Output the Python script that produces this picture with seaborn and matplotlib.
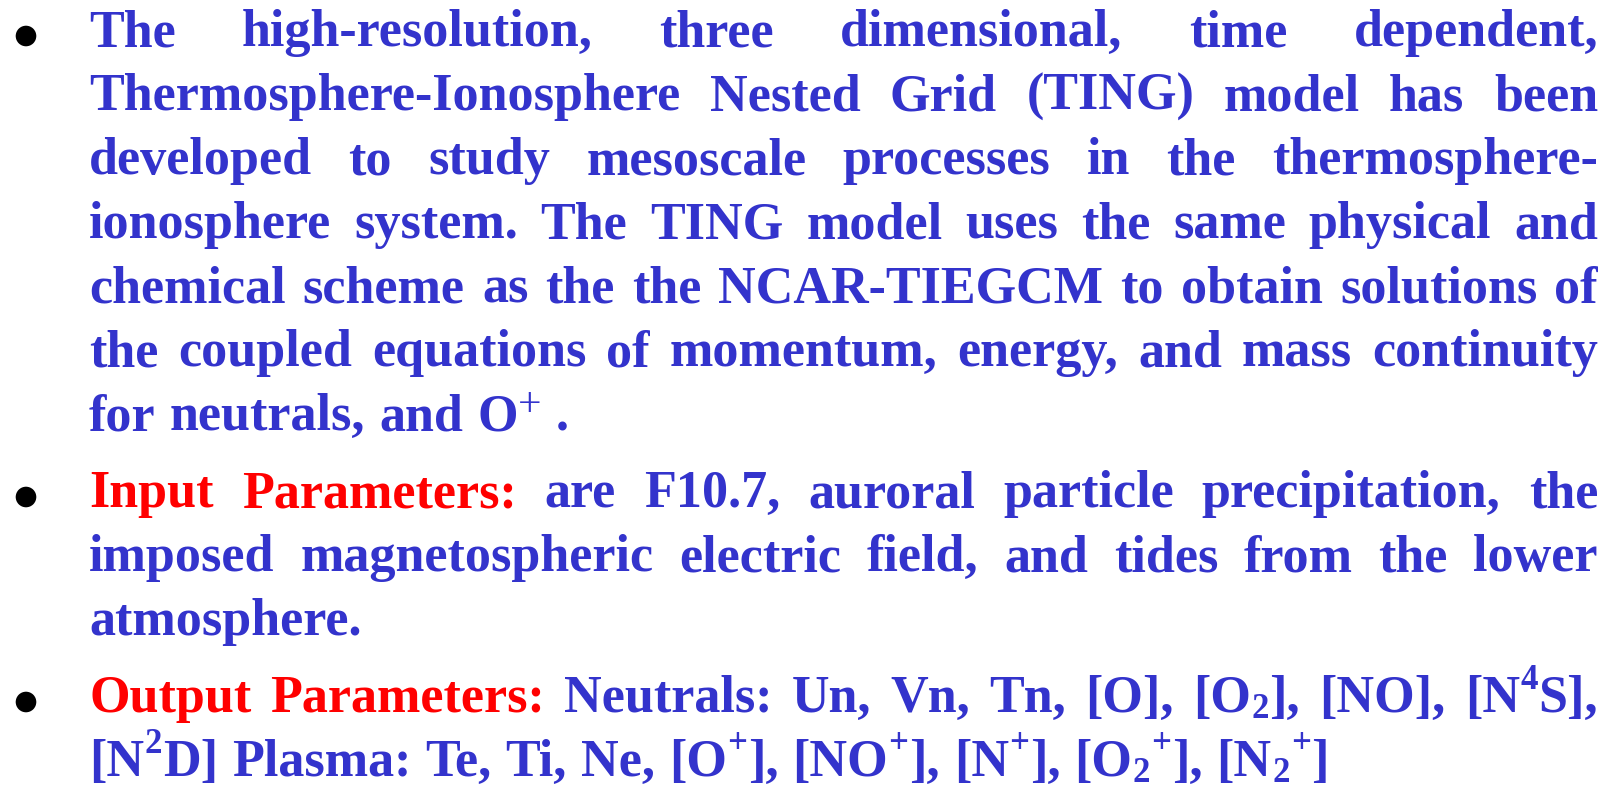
import re
import matplotlib
matplotlib.use("Agg")
import matplotlib.pyplot as plt
from matplotlib.font_manager import FontProperties
import seaborn as sns

# ---------------- content ----------------
heading_1 = ""
paragraph_1 = [
    "The high-resolution, three dimensional, time dependent,",
    "Thermosphere-Ionosphere Nested Grid (TING) model has been",
    "developed to study mesoscale processes in the thermosphere-",
    "ionosphere system. The TING model uses the same physical and",
    "chemical scheme as the the NCAR-TIEGCM to obtain solutions of",
    "the coupled equations of momentum, energy, and mass continuity",
    "for neutrals, and O^^{+} .",
]
heading_2 = "Input Parameters:"
paragraph_2 = [
    "are F10.7, auroral particle precipitation, the",
    "imposed magnetospheric electric field, and tides from the lower",
    "atmosphere.",
]
heading_3 = "Output Parameters:"
paragraph_3 = [
    "Neutrals: Un, Vn, Tn, [O], [O_{2}], [NO], [N^{4}S],",
    "[N^{2}D] Plasma: Te, Ti, Ne, [O^{+}], [NO^{+}], [N^{+}], [O_{2}^{+}], [N_{2}^{+}]",
]

# ---------------- layout / style ----------------
W, H = 1622, 789
LEFT, RIGHT = 89, 1598
BASELINES = [[46, 110, 174, 238, 302, 366, 430], [507, 571, 635], [712, 776]]
BULLET_X = 26
BULLET_UP = 10
FS = 37.5
EM = FS * 100 / 72.0
BLUE = "#3333CC"
RED = "#FF0000"
FAMILY = ["Liberation Serif", "DejaVu Serif"]
SIZES = {"n": 1.0, "sup": 0.67, "sub": 0.67, "bigsup": 0.8}
SHIFT = {"n": 0.0, "sup": -0.44, "sub": 0.12, "bigsup": -0.27}
WEIGHT = {"n": "bold", "sup": "bold", "sub": "bold", "bigsup": "normal"}
PAD = {"n": 0.0, "sup": 0.5, "sub": 0.5, "bigsup": 0.5}
SPACE_SCALE = 1.08

sns.set_theme(style="white")
plt.rcParams["font.family"] = FAMILY

fig = plt.figure(figsize=(W / 100, H / 100), dpi=100)
fig.patch.set_facecolor("white")
ax = fig.add_axes([0, 0, 1, 1])
renderer = fig.canvas.get_renderer()

_cache = {}


def text_width(s, size, weight="bold"):
    key = (s, size, weight)
    if key not in _cache:
        prop = FontProperties(family=FAMILY, weight=weight, size=size)
        w1, _, _ = renderer.get_text_width_height_descent("|" + s + "|", prop, ismath=False)
        w0, _, _ = renderer.get_text_width_height_descent("||", prop, ismath=False)
        _cache[key] = w1 - w0
    return _cache[key]


def split_runs(word):
    out = []
    for p in re.split(r"(\^\^\{[^}]*\}|\^\{[^}]*\}|_\{[^}]*\})", word):
        if not p:
            continue
        if p.startswith("^^{"):
            out.append((p[3:-1], "bigsup"))
        elif p.startswith("^{"):
            out.append((p[2:-1], "sup"))
        elif p.startswith("_{"):
            out.append((p[2:-1], "sub"))
        else:
            out.append((p, "n"))
    return out


def run_width(t, k):
    return text_width(t, FS * SIZES[k], WEIGHT[k]) + 2 * PAD[k]


def word_width(word):
    return sum(run_width(t, k) for t, k in split_runs(word))


def draw_word(x, y, word, color):
    for t, k in split_runs(word):
        size = FS * SIZES[k]
        ax.text(x + PAD[k], y + SHIFT[k] * EM, t, fontsize=size, fontweight=WEIGHT[k],
                color=color, ha="left", va="baseline", family=FAMILY)
        x += run_width(t, k)


space_w = (text_width("x x", FS) - text_width("xx", FS)) * SPACE_SCALE

paragraphs = [(heading_1, paragraph_1), (heading_2, paragraph_2), (heading_3, paragraph_3)]
for (heading, lines), bases in zip(paragraphs, BASELINES):
    for i, (line, y) in enumerate(zip(lines, bases)):
        words = [(w, BLUE) for w in line.split()]
        if i == 0 and heading:
            words = [(w, RED) for w in heading.split()] + words
        widths = [word_width(w) for w, _ in words]
        last = i == len(lines) - 1
        if last or len(words) < 2:
            gap = space_w
        else:
            gap = (RIGHT - LEFT - sum(widths)) / (len(words) - 1)
        x = LEFT
        for (w, c), ww in zip(words, widths):
            draw_word(x, y, w, c)
            x += ww + gap

bullet_y = [b[0] - BULLET_UP for b in BASELINES]
sns.scatterplot(x=[BULLET_X] * len(bullet_y), y=bullet_y, color="black", s=220,
                edgecolor="none", ax=ax, legend=False)

ax.set_xlim(0, W)
ax.set_ylim(H, 0)
ax.axis("off")

fig.savefig("out.png", dpi=100, facecolor="white")
